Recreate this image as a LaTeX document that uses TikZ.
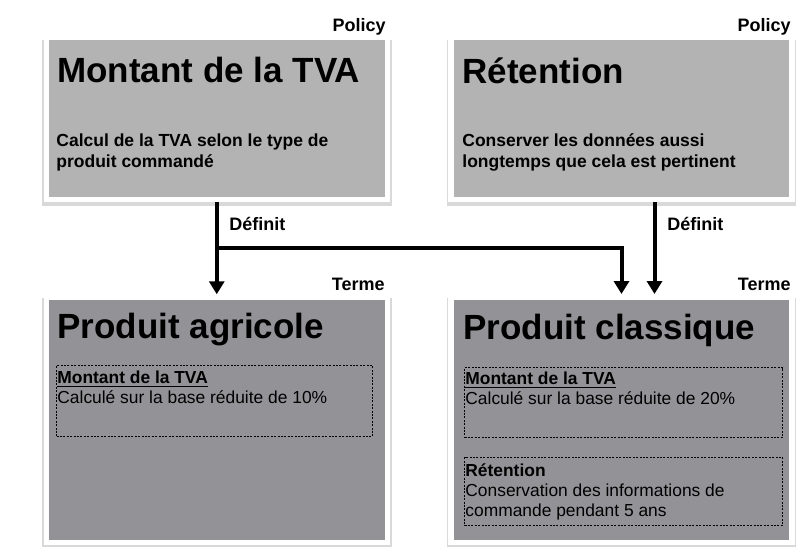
\documentclass[tikz,border=0pt]{standalone}
\usepackage{fontspec}
\setmainfont{Liberation Sans}
\usetikzlibrary{arrows.meta}
\usetikzlibrary{shadows}
\definecolor{policygris}{RGB}{179,179,179}
\definecolor{termegris}{RGB}{147,147,151}

\begin{document}
\begin{tikzpicture}
[x=0.5pt,y=-0.5pt,%
  every node/.style={inner sep=0pt,anchor=base west},%
  boite/.style={rectangle,anchor=center,draw=white,line width=2.75pt,minimum width=170.5pt,
    drop shadow={shadow xshift=0pt,shadow yshift=-2pt,shadow scale=1.025,opacity=0.3}},%
  policy/.style={boite,fill=policygris,minimum height=81pt},%
  terme/.style={boite,fill=termegris,minimum height=122.75pt},%
  titre/.style={font=\fontsize{17.5}{21}\selectfont\bfseries},%
  corps/.style={font=\fontsize{8.75}{10.5}\selectfont\bfseries,align=left},%
  etiq/.style={font=\fontsize{9}{11}\selectfont\bfseries},%
  detail/.style={font=\fontsize{8.7}{10}\selectfont,align=left},%
  cadre/.style={draw,line width=0.5pt,dash pattern=on 1pt off 0.7pt,anchor=north west},%
  lien/.style={line width=2pt,-{Triangle[width=7.5pt,length=6.5pt]}}]
\useasboundingbox (0,0) rectangle (797,546);
% policies
\node[policy] (montant) at (216.75,118.5) {};
\node[policy] (retention) at (621.5,118.5) {};
\node[etiq,anchor=base east] (pol1) at (386,32) {Policy};
\node[etiq,anchor=base east] (pol2) at (791,32) {Policy};
\node[titre] (t1) at (57,82) {Montant de la TVA};
\node[titre] (t2) at (462,83) {Rétention};
\node[corps] (c1) at (56,167) {Calcul de la TVA selon le type de\\produit commandé};
\node[corps] (c2) at (462,167) {Conserver les données aussi\\longtemps que cela est pertinent};
% termes
\node[terme] (agricole) at (216.75,419.75) {};
\node[terme] (classique) at (621.5,419.5) {};
\node[etiq,anchor=base east] (ter1) at (385,290) {Terme};
\node[etiq,anchor=base east] (ter2) at (791,290) {Terme};
\node[titre] (t3) at (57,338) {Produit agricole};
\node[titre] (t4) at (463,339) {Produit classique};
\node[cadre,minimum width=158pt,minimum height=35.5pt] (tva1) at (56,365) {};
\node[cadre,minimum width=159pt,minimum height=35pt] (tva2) at (464,367) {};
\node[cadre,minimum width=159pt,minimum height=34pt] (ret) at (464,457) {};
\node[detail] (d1) at (57,403) {\textbf{\underline{Montant de la TVA}}\\Calculé sur la base réduite de 10\%};
\node[detail] (d2) at (465,404) {\textbf{\underline{Montant de la TVA}}\\Calculé sur la base réduite de 20\%};
\node[detail] (d3) at (465,516) {\textbf{Rétention}\\Conservation des informations de\\commande pendant 5 ans};
% liens
\node[etiq] (def1) at (229,230) {Définit};
\node[etiq] (def2) at (667,230) {Définit};
\coordinate (branche) at (montant.south |- 0,248);
\draw[lien] (montant.south) -- (agricole.north);
\draw[lien] (branche) -| (classique.north);
\draw[lien] ([xshift=16.5pt]retention.south) -- ([xshift=16.5pt]classique.north);
\end{tikzpicture}
\end{document}
